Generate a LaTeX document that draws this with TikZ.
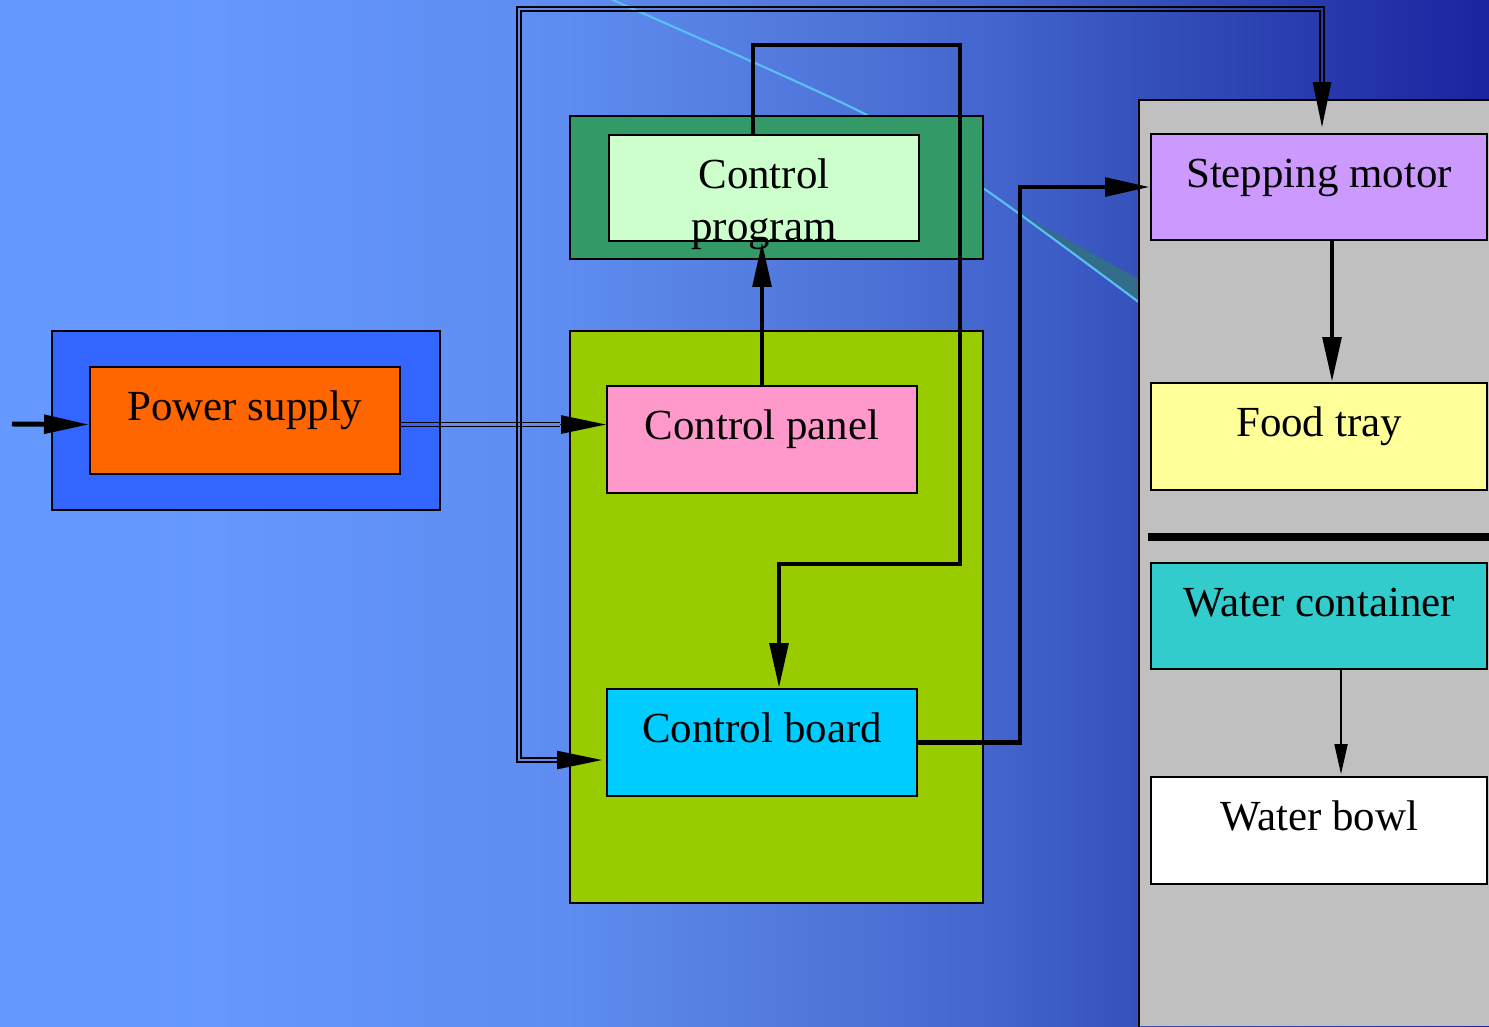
\documentclass[tikz,border=0pt]{standalone}
\usepackage{fontspec}
\setmainfont{Liberation Serif}
\usetikzlibrary{arrows.meta,calc}
\definecolor{c0}{RGB}{102,153,255}
\definecolor{c1}{RGB}{94,140,240}
\definecolor{c2}{RGB}{84,124,224}
\definecolor{c3}{RGB}{68,102,206}
\definecolor{c4}{RGB}{52,80,186}
\definecolor{c5}{RGB}{27,36,160}
\pgfdeclarehorizontalshading{bgshade}{100bp}{color(0bp)=(c0); color(25bp)=(c0); color(30bp)=(c0); color(44bp)=(c1); color(50.5bp)=(c2); color(58bp)=(c3); color(63.5bp)=(c4); color(75bp)=(c5); color(100bp)=(c5)}
\definecolor{psOuter}{HTML}{3366FF}
\definecolor{psFill}{HTML}{FF6600}
\definecolor{cpOuter}{HTML}{339966}
\definecolor{cprogFill}{HTML}{CCFFCC}
\definecolor{bigGreen}{HTML}{99CC00}
\definecolor{cpanelFill}{HTML}{FF99CC}
\definecolor{cboardFill}{HTML}{00CCFF}
\definecolor{panelGray}{HTML}{C0C0C0}
\definecolor{smFill}{HTML}{CC99FF}
\definecolor{ftFill}{HTML}{FFFF99}
\definecolor{wcFill}{HTML}{33CCCC}
\definecolor{curveCyan}{RGB}{90,192,242}
\definecolor{wedgeTeal}{RGB}{50,110,140}
\tikzset{
  box/.style={draw=black, line width=0.5pt, inner sep=0pt},
  txt/.style={inner sep=0pt, font=\fontsize{12.2}{13.5}\selectfont},
  thk/.style={draw=black, line width=1.4pt},
  thn/.style={draw=black, line width=0.45pt},
  >={Triangle[length=12.8pt,width=5.2pt]},
}
\begin{document}
\begin{tikzpicture}[x=0.01cm,y=-0.01cm]
\useasboundingbox (0,0) rectangle (1489,1026);
\shade[shading=bgshade] (0,0) rectangle (1489,1026);
% decorative curve
\fill[wedgeTeal] (1021,214) -- (1140,280) -- (1140,304) -- cycle;
\draw[curveCyan, line width=0.6pt] plot[smooth] coordinates {(600,-6) (613,0) (863,113) (983,188) (1140,303) (1150,311)};
% right grey panel
\fill[panelGray] (1139,100) rectangle (1489,1026);
\draw[black, line width=0.5pt] (1139,1030) -- (1139,100) -- (1495,100);
% boxes
\node[box, fill=psOuter, minimum width=3.88cm, minimum height=1.79cm] (psO) at (246,420.5) {};
\node[box, fill=psFill, minimum width=3.10cm, minimum height=1.07cm] (ps) at (245,420.5) {};
\node[box, fill=cpOuter, minimum width=4.13cm, minimum height=1.43cm] (cpO) at (776.5,187.5) {};
\node[box, fill=cprogFill, minimum width=3.10cm, minimum height=1.06cm] (cprog) at (764,188) {};
\node[box, fill=bigGreen, minimum width=4.13cm, minimum height=5.72cm] (bigG) at (776.5,617) {};
\node[box, fill=cpanelFill, minimum width=3.10cm, minimum height=1.07cm] (cpanel) at (762,439.5) {};
\node[box, fill=cboardFill, minimum width=3.10cm, minimum height=1.07cm] (cboard) at (762,742.5) {};
\node[box, fill=smFill, minimum width=3.36cm, minimum height=1.06cm] (smotor) at (1319,187) {};
\node[box, fill=ftFill, minimum width=3.36cm, minimum height=1.07cm] (ftray) at (1319,436.5) {};
\node[box, fill=wcFill, minimum width=3.36cm, minimum height=1.06cm] (wcont) at (1319,616) {};
\node[box, fill=white, minimum width=3.36cm, minimum height=1.07cm] (wbowl) at (1319,830.5) {};
% texts
\node[txt, anchor=base] (psT) at (ps.center) {Power supply};
\node[txt, anchor=base] (cprogT) at (cprog.center) {\def\arraystretch{1.1}\begin{tabular}[t]{@{}c@{}}Control\\program\end{tabular}};
\node[txt, anchor=base] (cpanelT) at (cpanel.center) {Control panel};
\node[txt, anchor=base] (cboardT) at (cboard.center) {Control board};
\node[txt, anchor=base] (smotorT) at (smotor.center) {Stepping motor};
\node[txt, anchor=base] (ftrayT) at (ftray.center) {Food tray};
\node[txt, anchor=base] (wcontT) at (wcont.center) {Water container};
\node[txt, anchor=base] (wbowlT) at (wbowl.center) {Water bowl};
% divider
\draw[black, line width=2.2pt] (1148,537) -- (1495,537);
% input arrow
\coordinate (inp) at (12,424);
\draw[thk, ->] (inp) -- ($(ps.west)+(0,4)$);
% power supply -> control panel (double line)
\draw[thn] ($(ps.east)+(0,2)$) -- ($(cpanel.west)+(-46,-17)$);
\draw[thn] ($(ps.east)+(0,6)$) -- ($(cpanel.west)+(-46,-13)$);
\draw[thn, ->] ($(cpanel.west)+(-46,-15)$) -- ($(cpanel.west)+(0,-15)$);
% long double loop: control board <- ... -> stepping motor
\coordinate (dbBL) at (519,760);
\coordinate (dbTL) at (519,9);
\coordinate (dbTR) at (1322,9);
\draw[thn] ($(dbBL)+(38,2)$) -- ($(dbBL)+(-2,2)$) -- ($(dbTL)+(-2,-2)$) -- ($(dbTR)+(2,-2)$) -- ($(dbTR)+(2,76)$);
\draw[thn] ($(dbBL)+(38,-2)$) -- ($(dbBL)+(2,-2)$) -- ($(dbTL)+(2,2)$) -- ($(dbTR)+(-2,2)$) -- ($(dbTR)+(-2,76)$);
\draw[thn, ->] ($(dbBL)+(38,0)$) -- ($(cboard.west)+(-4,17.5)$);
\draw[thn, ->] ($(dbTR)+(0,76)$) -- ($(smotor.north)+(3,-6)$);
% control panel -> control program
\draw[thk, ->] (cpanel.north) -- (cpanel.north |- cprog.south);
% control program loop -> control board
\coordinate (lpA) at (960,45);
\coordinate (lpB) at (779,564);
\draw[thk, ->] ($(cprog.north)+(-11,0)$) |- (lpA) |- (lpB) -- ($(cboard.north)+(17,0)$);
% control board -> stepping motor
\coordinate (jx) at (1020,0);
\draw[thk, ->] (cboard.east) -- (cboard.east -| jx) |- (smotor.west);
% stepping motor -> food tray
\draw[thk, ->] ($(smotor.south)+(13,0)$) -- ($(ftray.north)+(13,0)$);
% water container -> water bowl
\draw[thn, -{Triangle[length=8.5pt,width=3.7pt]}] ($(wcont.south)+(22,0)$) -- ($(wbowl.north)+(22,-2)$);
\end{tikzpicture}
\end{document}
